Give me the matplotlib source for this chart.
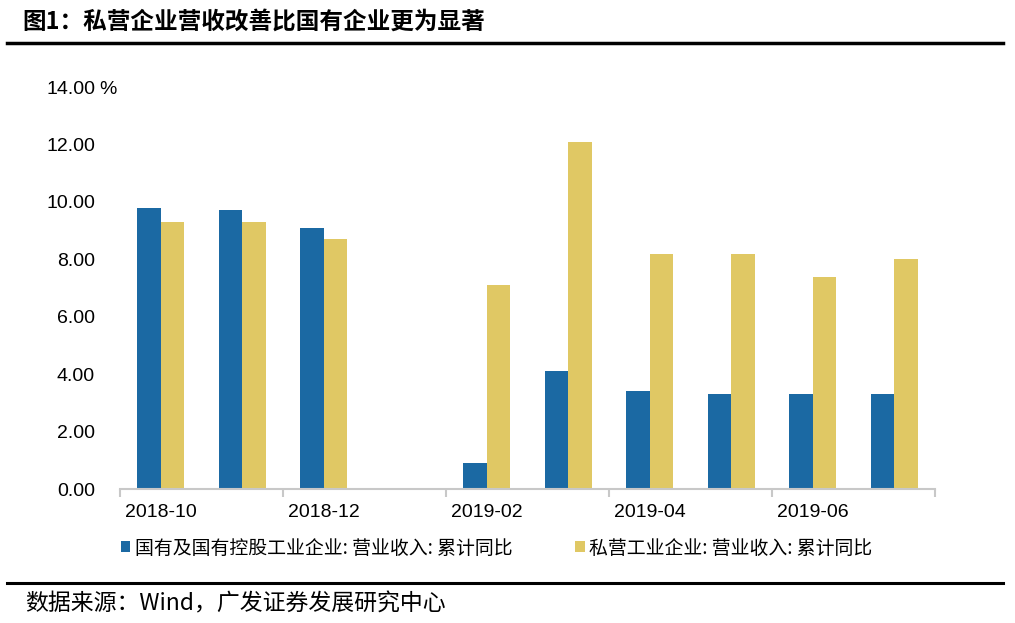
import numpy as np
import matplotlib
matplotlib.use('Agg')
import matplotlib.pyplot as plt
from matplotlib.lines import Line2D

plt.rcParams['font.family'] = ['Noto Sans CJK SC', 'DejaVu Sans']

# 数据
months = ['2018-10', '2018-11', '2018-12', '2019-01', '2019-02',
          '2019-03', '2019-04', '2019-05', '2019-06', '2019-07']
soe = [9.8, 9.7, 9.1, np.nan, 0.9, 4.1, 3.4, 3.3, 3.3, 3.3]
private = [9.3, 9.3, 8.7, np.nan, 7.1, 12.1, 8.2, 8.2, 7.4, 8.0]
soe_name = '国有及国有控股工业企业: 营业收入: 累计同比'
private_name = '私营工业企业: 营业收入: 累计同比'
yticks = [0, 2, 4, 6, 8, 10, 12, 14]

blue = '#1B69A3'
gold = '#E0C864'

fig = plt.figure(figsize=(10.15, 6.23), dpi=100)
ax = fig.add_axes([120 / 1015, 1 - 489 / 623, 815 / 1015, 402 / 623])

x = np.arange(len(months))
w = 0.29
b1 = ax.bar(x - w / 2, soe, w, color=blue, label=soe_name)
b2 = ax.bar(x + w / 2, private, w, color=gold, label=private_name)

ax.set_xlim(-0.5, len(months) - 0.5)
ax.set_ylim(0, 14)

# y轴
ax.set_yticks(yticks)
ax.set_yticklabels(['%.2f' % v for v in yticks], family=['Liberation Sans'], fontsize=14)
ax.tick_params(axis='y', length=0, pad=18)
ax.text(-0.015, 13.92, '%', transform=ax.get_yaxis_transform(), ha='center', va='center',
        family=['Liberation Sans'], fontsize=14)

# x轴: 标签在组中心, 刻度在组边界
ax.set_xticks(x[::2])
ax.set_xticklabels(months[::2], family=['Liberation Sans'], fontsize=14)
ax.tick_params(axis='x', which='major', length=0, pad=11)
ax.set_xticks(np.arange(-0.5, len(months), 2), minor=True)
ax.tick_params(axis='x', which='minor', length=6, width=1.5, color='#c8c8c8')

for s in ['left', 'top', 'right']:
    ax.spines[s].set_visible(False)
ax.spines['bottom'].set_color('#c8c8c8')
ax.spines['bottom'].set_linewidth(1.5)

fig.legend(handles=[b1, b2], loc='center left', bbox_to_anchor=(121 / 1015, 1 - 548 / 623),
           ncol=2, frameon=False, fontsize=13.6, handlelength=0.5, handleheight=0.5,
           handletextpad=0.25, columnspacing=3.3, borderpad=0, borderaxespad=0)

# 标题和来源
fig.text(22 / 1015, 1 - 22 / 623, '图1：私营企业营收改善比国有企业更为显著',
         fontsize=17, fontweight='bold', ha='left', va='center')
fig.add_artist(Line2D([7 / 1015, 1003 / 1015], [1 - 42.5 / 623] * 2, color='black', lw=2.5))
fig.add_artist(Line2D([7 / 1015, 1003 / 1015], [1 - 583 / 623] * 2, color='black', lw=2.2))
fig.text(25 / 1015, 1 - 604 / 623, '数据来源：Wind，广发证券发展研究中心',
         fontsize=16.5, ha='left', va='center')

fig.savefig('out.png', dpi=100)
